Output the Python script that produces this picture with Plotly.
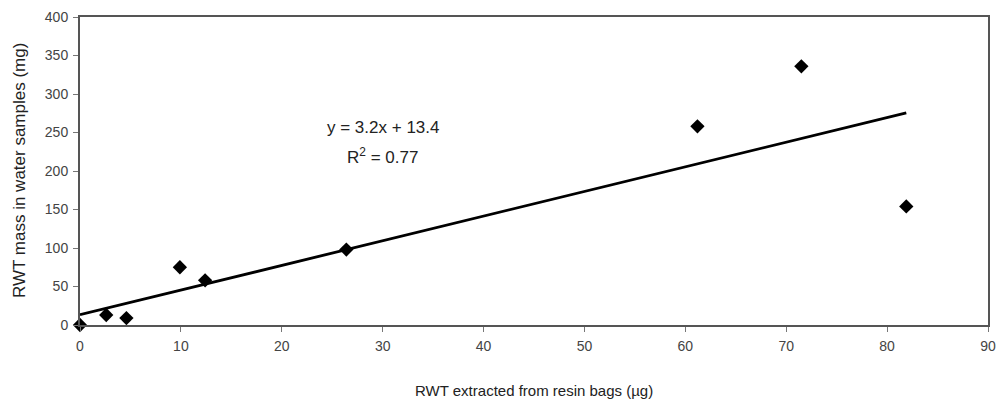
import numpy as np
import plotly.graph_objects as go

# Data
rwt_resin_ug = [0.0, 2.6, 4.6, 9.9, 12.4, 26.4, 61.2, 71.5, 81.9]
rwt_water_mg = [0.0, 13.0, 9.0, 75.0, 58.0, 98.0, 258.0, 336.0, 154.0]
trend_slope = 3.2
trend_intercept = 13.4
r_squared = 0.77
x_ticks = [0, 10, 20, 30, 40, 50, 60, 70, 80, 90]
y_ticks = [0, 50, 100, 150, 200, 250, 300, 350, 400]

x_line = np.array([min(rwt_resin_ug), max(rwt_resin_ug)])
y_line = trend_slope * x_line + trend_intercept

font_family = "Liberation Sans, Arial, sans-serif"

fig = go.Figure()
fig.add_trace(go.Scatter(
    x=x_line, y=y_line, mode="lines",
    line=dict(color="black", width=2.8), showlegend=False, hoverinfo="skip"))
fig.add_trace(go.Scatter(
    x=rwt_resin_ug, y=rwt_water_mg, mode="markers",
    marker=dict(symbol="diamond", color="black", size=11, line=dict(width=0)),
    showlegend=False, cliponaxis=False))

fig.add_annotation(
    x=30, y=257, xref="x", yref="y",
    text=f"y = {trend_slope}x + {trend_intercept}",
    showarrow=False, font=dict(family=font_family, size=17, color="#222"))
fig.add_annotation(
    x=30, y=219, xref="x", yref="y",
    text=f"R<sup>2</sup> = {r_squared}",
    showarrow=False, font=dict(family=font_family, size=17, color="#222"))

# axis titles
fig.add_annotation(
    x=0, y=0.5, xref="paper", yref="paper", xshift=-61,
    xanchor="center", yanchor="middle",
    text="RWT mass in water samples (mg)", textangle=-90,
    showarrow=False, font=dict(family=font_family, size=17, color="#222"))
fig.add_annotation(
    x=0.5, y=0, xref="paper", yref="paper", yshift=-65,
    xanchor="center", yanchor="middle",
    text="RWT extracted from resin bags (µg)",
    showarrow=False, font=dict(family=font_family, size=15, color="#222"))

axis_common = dict(
    showline=True, linecolor="#555", linewidth=2, mirror=True,
    ticks="outside", ticklen=5, tickwidth=1, tickcolor="#777",
    showgrid=False, zeroline=False, automargin=False,
    ticklabeloverflow="allow",
    tickfont=dict(family=font_family, size=14, color="#444"),
)

fig.update_xaxes(range=[0, 90], tickvals=x_ticks, ticklabelstandoff=2, **axis_common)
fig.update_yaxes(range=[0, 400], tickvals=y_ticks, ticklabelstandoff=2, **axis_common)

fig.update_layout(
    width=997, height=399,
    margin=dict(l=80, r=9, t=17, b=74),
    paper_bgcolor="white", plot_bgcolor="white",
)

fig.write_html("out.html",
               config={"displayModeBar": False},
               post_script="document.body.style.margin='0';document.body.style.overflow='hidden';")
